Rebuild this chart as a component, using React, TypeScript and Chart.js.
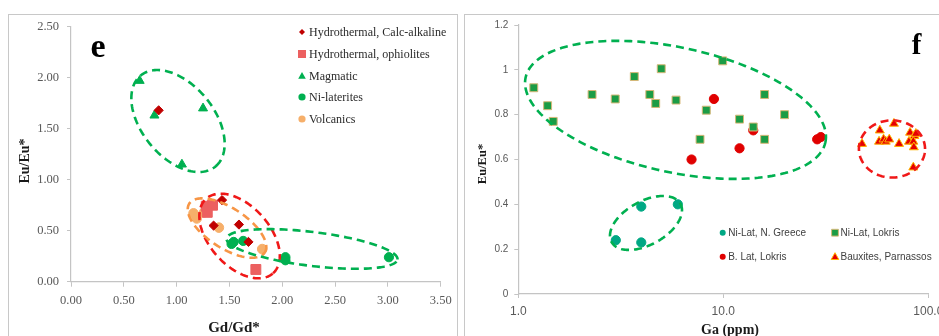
import React, { useEffect, useRef } from 'react';
import { Chart, registerables } from 'chart.js';
Chart.register(...registerables);

// ---------- Panel e data (Gd/Gd* vs Eu/Eu*) ----------
const calcAlkaline = [[0.83, 1.68], [1.43, 0.80], [1.35, 0.55], [1.59, 0.56], [1.68, 0.39]];
const ophiolites = [[1.28, 0.74], [1.34, 0.75], [1.29, 0.68], [1.75, 0.12]];
const magmatic = [[0.65, 1.97], [0.79, 1.63], [1.25, 1.70], [1.05, 1.15]];
const niLaterites = [[1.52, 0.37], [1.54, 0.39], [1.63, 0.40], [2.03, 0.24], [2.03, 0.21], [3.01, 0.24]];
const volcanics = [[1.16, 0.67], [1.19, 0.62], [1.26, 0.68], [1.40, 0.53], [1.81, 0.32]];
const labelsE = ['Hydrothermal, Calc-alkaline', 'Hydrothermal, ophiolites', 'Magmatic', 'Ni-laterites', 'Volcanics'];
const xTicksE = [0, 0.5, 1, 1.5, 2, 2.5, 3, 3.5];
const yTicksE = [0, 0.5, 1, 1.5, 2, 2.5];
// ellipses: [centre, end of first axis, end of second axis] in data units
const ellipsesE = [
  [[1.013, 1.575], [1.373, 1.134], [1.269, 1.811]],
  [[1.596, 0.448], [1.913, 0.083], [1.807, 0.645]],
  [[1.477, 0.526], [1.834, 0.286], [1.581, 0.691]],
  [[2.282, 0.321], [3.091, 0.218], [2.302, 0.486]],
];

// ---------- Panel f data (Ga ppm vs Eu/Eu*) ----------
const niLatGreece = [[2.99, 0.24], [3.98, 0.39], [3.98, 0.23], [6.0, 0.40]];
const niLatLokris = [
  [1.19, 0.92], [1.39, 0.84], [1.48, 0.77], [2.29, 0.89], [2.97, 0.87], [3.68, 0.97],
  [4.38, 0.89], [4.68, 0.85], [4.98, 1.005], [5.88, 0.865], [7.7, 0.69], [8.26, 0.82],
  [9.93, 1.04], [12.0, 0.78], [14.0, 0.745], [15.9, 0.89], [15.9, 0.69], [19.9, 0.80],
];
const bLatLokris = [[9.0, 0.87], [7.0, 0.60], [12.0, 0.65], [14.0, 0.73], [28.7, 0.69], [29.9, 0.70]];
const bauxites = [
  [47.5, 0.67], [58, 0.73], [57.5, 0.68], [60.5, 0.69], [62, 0.68], [64.5, 0.69], [68, 0.76],
  [72, 0.67], [81.5, 0.72], [80.5, 0.68], [85.5, 0.705], [84.5, 0.68], [85, 0.655], [84.5, 0.565], [87, 0.715],
];
const labelsF = ['Ni-Lat, N. Greece', 'Ni-Lat, Lokris', 'B. Lat, Lokris', 'Bauxites, Parnassos'];
const xTicksF = [1, 10, 100];
const yTicksF = [0, 0.2, 0.4, 0.6, 0.8, 1, 1.2];
const ellipsesF = [
  [[5.846, 0.8214], [31.48, 0.6768], [6.78, 1.0933]],
  [[4.196, 0.317], [6.175, 0.4027], [4.73, 0.2326]],
  [[66.5, 0.647], [96.4, 0.647], [66.5, 0.7746]],
];

const toXY = (pts) => pts.map(([x, y]) => ({ x, y }));

const GREEN = '#00B050';
const SERIF = "'Liberation Serif', 'Times New Roman', serif";
const SANS = "'Liberation Sans', Arial, sans-serif";
const AXIS = '#C4C4C4';

function drawMarker(ctx, style, x, y, r, fill, stroke) {
  ctx.save();
  ctx.fillStyle = fill;
  ctx.strokeStyle = stroke || fill;
  ctx.lineWidth = 1;
  ctx.beginPath();
  if (style === 'circle') ctx.arc(x, y, r, 0, Math.PI * 2);
  else if (style === 'rect') ctx.rect(x - r, y - r, 2 * r, 2 * r);
  else if (style === 'rectRot') {
    ctx.moveTo(x, y - r); ctx.lineTo(x + r, y); ctx.lineTo(x, y + r); ctx.lineTo(x - r, y); ctx.closePath();
  } else if (style === 'triangle') {
    ctx.moveTo(x, y - r); ctx.lineTo(x + r * 0.95, y + r * 0.7); ctx.lineTo(x - r * 0.95, y + r * 0.7); ctx.closePath();
  }
  ctx.fill();
  if (stroke) ctx.stroke();
  ctx.restore();
}

function ellipsePlugin(list, colors) {
  return {
    id: 'ellipses',
    afterDatasetsDraw(chart) {
      const { ctx } = chart;
      const xs = chart.scales.x, ys = chart.scales.y;
      const P = (p) => [xs.getPixelForValue(p[0]), ys.getPixelForValue(p[1])];
      list.forEach(([c, a, b], i) => {
        const C = P(c), A = P(a), B = P(b);
        ctx.save();
        ctx.strokeStyle = colors[i];
        ctx.lineWidth = 2.6;
        ctx.setLineDash([8, 5]);
        ctx.beginPath();
        for (let k = 0; k <= 160; k++) {
          const t = (k / 160) * Math.PI * 2;
          const x = C[0] + (A[0] - C[0]) * Math.cos(t) + (B[0] - C[0]) * Math.sin(t);
          const y = C[1] + (A[1] - C[1]) * Math.cos(t) + (B[1] - C[1]) * Math.sin(t);
          if (k === 0) ctx.moveTo(x, y); else ctx.lineTo(x, y);
        }
        ctx.closePath();
        ctx.stroke();
        ctx.restore();
      });
    },
  };
}

function textPlugin(draw) {
  return { id: 'texts', afterDraw(chart) { draw(chart.ctx, chart); } };
}

export default function App() {
  const refE = useRef(null);
  const refF = useRef(null);

  useEffect(() => {
    const stylesE = [
      { pointStyle: 'rectRot', pointRadius: 4.6, backgroundColor: '#C00000', borderColor: '#C00000' },
      { pointStyle: 'rect', pointRadius: 7, backgroundColor: '#EC6060', borderColor: '#EC6060' },
      { pointStyle: 'triangle', pointRadius: 5.2, backgroundColor: GREEN, borderColor: GREEN },
      { pointStyle: 'circle', pointRadius: 4.6, backgroundColor: GREEN, borderColor: GREEN },
      { pointStyle: 'circle', pointRadius: 4.8, backgroundColor: '#F6AF6A', borderColor: '#F6AF6A' },
    ];
    const seriesE = [calcAlkaline, ophiolites, magmatic, niLaterites, volcanics];
    const legendStylesE = [
      ['rectRot', 3, '#C00000'], ['rect', 4, '#EC6060'], ['triangle', 4, GREEN], ['circle', 3.6, GREEN], ['circle', 3.6, '#F6AF6A'],
    ];

    const chartE = new Chart(refE.current, {
      type: 'scatter',
      data: {
        datasets: seriesE.map((s, i) => ({ label: labelsE[i], data: toXY(s), borderWidth: 1, ...stylesE[i] })),
      },
      options: {
        animation: false,
        responsive: false,
        layout: { padding: { left: 0, top: 26.7, right: 21.3, bottom: 0 } },
        plugins: { legend: { display: false }, tooltip: { enabled: false } },
        scales: {
          x: {
            type: 'linear', min: 0, max: 3.5,
            afterBuildTicks: (s) => { s.ticks = xTicksE.map((v) => ({ value: v })); },
            afterFit: (s) => { s.height = 63.3; },
            ticks: { callback: (v) => Number(v).toFixed(2), color: '#595959', font: { family: SERIF, size: 12.5 }, padding: 7, maxRotation: 0, autoSkip: false },
            grid: { drawOnChartArea: false, tickLength: 5, color: AXIS },
            border: { color: AXIS, width: 1.2 },
          },
          y: {
            type: 'linear', min: 0, max: 2.5,
            afterBuildTicks: (s) => { s.ticks = yTicksE.map((v) => ({ value: v })); },
            afterFit: (s) => { s.width = 71; },
            ticks: { callback: (v) => Number(v).toFixed(2), color: '#595959', font: { family: SERIF, size: 12.5 }, padding: 8, autoSkip: false },
            grid: { drawOnChartArea: false, tickLength: 4, color: AXIS },
            border: { color: AXIS, width: 1.2 },
          },
        },
      },
      plugins: [
        ellipsePlugin(ellipsesE, [GREEN, '#F01818', '#F79646', GREEN]),
        textPlugin((ctx) => {
          ctx.save();
          ctx.fillStyle = '#000';
          ctx.textAlign = 'center';
          ctx.textBaseline = 'middle';
          ctx.font = `bold 34px ${SERIF}`;
          ctx.fillText('e', 98, 48);
          ctx.font = `bold 15px ${SERIF}`;
          ctx.fillStyle = '#1a1a1a';
          ctx.fillText('Gd/Gd*', 234, 328);
          ctx.translate(25, 161);
          ctx.rotate(-Math.PI / 2);
          ctx.font = `bold 14px ${SERIF}`;
          ctx.fillText('Eu/Eu*', 0, 0);
          ctx.restore();
          ctx.save();
          ctx.font = `12px ${SERIF}`;
          ctx.fillStyle = '#2a2a2a';
          ctx.textAlign = 'left';
          ctx.textBaseline = 'middle';
          const rows = [32, 54, 76, 97, 119];
          labelsE.forEach((l, i) => {
            const [st, r, c] = legendStylesE[i];
            drawMarker(ctx, st, 302, rows[i], r, c);
            ctx.fillText(l, 309, rows[i] + 0.5);
          });
          ctx.restore();
        }),
      ],
    });

    const stylesF = [
      { pointStyle: 'circle', pointRadius: 4.6, backgroundColor: '#00A884', borderColor: '#00A884', borderWidth: 1 },
      { pointStyle: 'rect', pointRadius: 5.6, backgroundColor: '#1B9C45', borderColor: '#D6B878', borderWidth: 1 },
      { pointStyle: 'circle', pointRadius: 4.6, backgroundColor: '#E00000', borderColor: '#E00000', borderWidth: 1 },
      { pointStyle: 'triangle', pointRadius: 5.2, backgroundColor: '#E60000', borderColor: '#FFB400', borderWidth: 1 },
    ];
    const seriesF = [niLatGreece, niLatLokris, bLatLokris, bauxites];
    const legendStylesF = [
      ['circle', 3, '#00A884', null, 722.7 - 462, 232.7],
      ['rect', 3.4, '#1B9C45', '#D6B878', 835 - 462, 232.7],
      ['circle', 3, '#E00000', null, 722.7 - 462, 256.7],
      ['triangle', 4, '#E60000', '#FFB400', 835 - 462, 256.7],
    ];

    const chartF = new Chart(refF.current, {
      type: 'scatter',
      data: {
        datasets: seriesF.map((s, i) => ({ label: labelsF[i], data: toXY(s), ...stylesF[i] })),
      },
      options: {
        animation: false,
        responsive: false,
        layout: { padding: { left: 0, top: 25, right: 53.7, bottom: 0 } },
        plugins: { legend: { display: false }, tooltip: { enabled: false } },
        scales: {
          x: {
            type: 'logarithmic', min: 1, max: 100,
            afterBuildTicks: (s) => { s.ticks = xTicksF.map((v) => ({ value: v })); },
            afterFit: (s) => { s.height = 51; },
            ticks: { callback: (v) => Number(v).toFixed(1), color: '#595959', font: { family: SANS, size: 12 }, padding: 6, maxRotation: 0, autoSkip: false },
            grid: { drawOnChartArea: false, tickLength: 4, color: AXIS },
            border: { color: AXIS, width: 1.2 },
          },
          y: {
            type: 'linear', min: 0, max: 1.2,
            afterBuildTicks: (s) => { s.ticks = yTicksF.map((v) => ({ value: v })); },
            afterFit: (s) => { s.width = 56.3; },
            ticks: { callback: (v) => String(Number(Number(v).toFixed(1))), color: '#595959', font: { family: SANS, size: 10 }, padding: 6, autoSkip: false },
            grid: { drawOnChartArea: false, tickLength: 4, color: AXIS },
            border: { color: AXIS, width: 1.2 },
          },
        },
      },
      plugins: [
        ellipsePlugin(ellipsesF, [GREEN, GREEN, '#F01818']),
        textPlugin((ctx) => {
          ctx.save();
          ctx.fillStyle = '#000';
          ctx.textAlign = 'center';
          ctx.textBaseline = 'middle';
          ctx.font = `bold 29px ${SERIF}`;
          ctx.fillText('f', 916.7 - 462, 47);
          ctx.font = `bold 14px ${SERIF}`;
          ctx.fillStyle = '#1a1a1a';
          ctx.fillText('Ga (ppm)', 730 - 462, 330);
          ctx.translate(482.7 - 462, 164);
          ctx.rotate(-Math.PI / 2);
          ctx.font = `bold 12.5px ${SERIF}`;
          ctx.fillText('Eu/Eu*', 0, 0);
          ctx.restore();
          ctx.save();
          ctx.font = `10px ${SANS}`;
          ctx.fillStyle = '#404040';
          ctx.textAlign = 'left';
          ctx.textBaseline = 'middle';
          labelsF.forEach((l, i) => {
            const [st, r, c, sc, x, y] = legendStylesF[i];
            drawMarker(ctx, st, x, y, r, c, sc);
            ctx.fillText(l, x + 5.5, y + 0.5);
          });
          ctx.restore();
        }),
      ],
    });

    return () => { chartE.destroy(); chartF.destroy(); };
  }, []);

  return (
    <div style={{ position: 'fixed', left: 0, top: 0, width: 939, height: 336, overflow: 'hidden', background: '#fff' }}>
      <div style={{ position: 'absolute', left: 8, top: 14, width: 450, height: 340, border: '1px solid #C8C8C8', boxSizing: 'border-box' }} />
      <div style={{ position: 'absolute', left: 464, top: 14, width: 500, height: 340, border: '1px solid #C8C8C8', boxSizing: 'border-box' }} />
      <canvas ref={refE} width={462} height={345} style={{ position: 'absolute', left: 0, top: 0, width: 462, height: 345 }} />
      <canvas ref={refF} width={520} height={345} style={{ position: 'absolute', left: 462, top: 0, width: 520, height: 345 }} />
    </div>
  );
}
